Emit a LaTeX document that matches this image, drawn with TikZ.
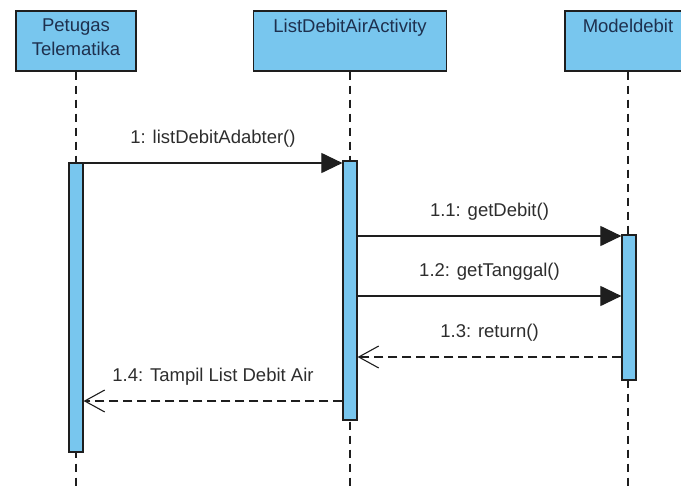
\documentclass[tikz,border=0pt]{standalone}
\usepackage{fontspec}
\setmainfont{Liberation Sans}
\usetikzlibrary{arrows.meta,positioning}
\definecolor{lifeblue}{RGB}{120,198,238}
\definecolor{headtext}{RGB}{30,48,78}
\definecolor{msgtext}{RGB}{45,45,45}
\definecolor{edge}{RGB}{30,30,30}
\tikzset{
  head/.style={draw=edge, line width=1.3pt, fill=lifeblue, minimum height=60pt, inner sep=0pt},
  headtxt/.style={anchor=north, align=center, text=headtext, font=\fontsize{18.5}{24}\selectfont},
  bar/.style={draw=edge, line width=1.2pt, fill=lifeblue, minimum width=14pt, inner sep=0pt},
  life/.style={draw=edge, line width=1.1pt, dash pattern=on 8pt off 6pt},
  call/.style={draw=edge, line width=1.1pt, -{Triangle[length=21pt,width=20pt]}},
  reply/.style={draw=edge, line width=1.1pt, dash pattern=on 9pt off 5pt, -{Straight Barb[length=20pt,width=22pt,line width=1.1pt]}},
  msg/.style={midway, above=12.5pt, inner sep=3pt, text=msgtext, font=\fontsize{18.5}{22}\selectfont}
}
\begin{document}
\begin{tikzpicture}[x=1pt,y=-1pt]
\useasboundingbox (0,0) rectangle (681,488);

% lifeline heads
\node[head, minimum width=120pt] (petugas) at (76,41) {};
\node[head, minimum width=193pt] (list) at (350,41) {};
\node[head, minimum width=126pt] (model) at (628,41) {};
\node[headtxt] (petugasName) at ([yshift=-5pt]petugas.north) {Petugas\\Telematika};
\node[headtxt] (listName) at ([yshift=-5pt]list.north) {ListDebitAirActivity};
\node[headtxt] (modelName) at ([yshift=-5pt]model.north) {Modeldebit};

% lifelines
\coordinate (petugasEnd) at (76,488);
\coordinate (listEnd) at (350,488);
\coordinate (modelEnd) at (628,488);
\draw[life] (petugas.south) -- (petugasEnd);
\draw[life] (list.south) -- (listEnd);
\draw[life] (model.south) -- (modelEnd);

% activations
\node[bar, minimum height=289pt] (petugasAct) at (76,307.5) {};
\node[bar, minimum height=259pt] (listAct) at (350,290.5) {};
\node[bar, minimum height=145pt] (modelAct) at (629,307.5) {};

% messages
\draw[call] (petugasAct.east |- 0,163) -- (listAct.west |- 0,163) node[msg] {1: listDebitAdabter()};
\draw[call] (listAct.east |- 0,236) -- (modelAct.west |- 0,236) node[msg] {1.1: getDebit()};
\draw[call] (listAct.east |- 0,296) -- (modelAct.west |- 0,296) node[msg] {1.2: getTanggal()};
\draw[reply] (modelAct.west |- 0,357) -- (listAct.east |- 0,357) node[msg] {1.3: return()};
\draw[reply] (listAct.west |- 0,401) -- (petugasAct.east |- 0,401) node[msg] {1.4: Tampil List Debit Air};
\end{tikzpicture}
\end{document}
